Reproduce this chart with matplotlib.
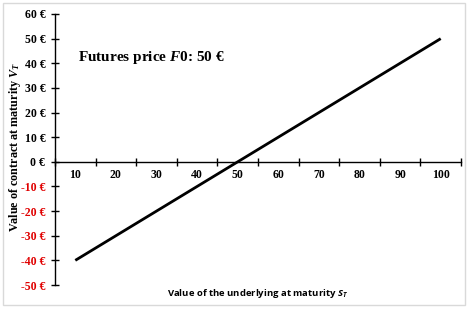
import matplotlib
matplotlib.use("Agg")
import matplotlib.pyplot as plt
from matplotlib.patches import Rectangle
from matplotlib.ticker import FixedLocator, FixedFormatter

matplotlib.rcParams["mathtext.fontset"] = "custom"
matplotlib.rcParams["mathtext.it"] = "Liberation Serif:italic:bold"
matplotlib.rcParams["mathtext.rm"] = "Liberation Serif:bold"
matplotlib.rcParams["mathtext.bf"] = "Liberation Serif:bold"
matplotlib.rcParams["mathtext.sf"] = "Open Sans:italic:bold"

categories = [10, 20, 30, 40, 50, 60, 70, 80, 90, 100]
contract_values = [-40, -30, -20, -10, 0, 10, 20, 30, 40, 50]
y_ticks = [-50, -40, -30, -20, -10, 0, 10, 20, 30, 40, 50, 60]
y_tick_labels = [f"{v} €" for v in y_ticks]
title_price = 50

W, H = 474, 314
fig = plt.figure(figsize=(W / 100, H / 100), dpi=100)
fig.patch.set_facecolor("white")
fig.add_artist(Rectangle((3 / W, 1 - 305 / H), 462 / W, 302 / H, transform=fig.transFigure,
                         fill=False, edgecolor="#d9d9d9", linewidth=1))

ax = fig.add_axes([55 / W, 1 - 285 / H, (461 - 55) / W, (285 - 14) / H])
pos = list(range(len(categories)))
ax.plot(pos, contract_values, color="black", lw=2, solid_capstyle="butt")

ax.set_xlim(-0.5, len(categories) - 0.5)
ax.set_ylim(-50, 60)
for s in ["top", "right"]:
    ax.spines[s].set_visible(False)
ax.spines["bottom"].set_position(("data", 0))
ax.spines["bottom"].set_linewidth(1)
ax.spines["left"].set_linewidth(1)

serif = "Liberation Serif"
ax.xaxis.set_major_locator(FixedLocator([p - 0.5 for p in pos] + [pos[-1] + 0.5]))
ax.xaxis.set_major_formatter(FixedFormatter([""] * (len(pos) + 1)))
ax.xaxis.set_minor_locator(FixedLocator(pos))
ax.xaxis.set_minor_formatter(FixedFormatter([str(c) for c in categories]))
ax.tick_params(axis="x", which="major", direction="inout", length=6, width=1)
ax.tick_params(axis="x", which="minor", length=0, pad=5)
for lab in ax.xaxis.get_minorticklabels():
    lab.set_fontfamily(serif)
    lab.set_fontweight("bold")
    lab.set_fontsize(8.5)

ax.set_yticks(y_ticks)
ax.set_yticklabels(y_tick_labels)
ax.tick_params(axis="y", direction="inout", length=6, width=1, pad=4)
for lab, v in zip(ax.get_yticklabels(), y_ticks):
    lab.set_fontfamily(serif)
    lab.set_fontweight("bold")
    lab.set_fontsize(8.5)
    lab.set_color("#e00000" if v < 0 else "black")

fig.text(78 / W, 1 - 57 / H, r"Futures price $\mathit{F0}$: " + f"{title_price} €",
         fontfamily=serif, fontweight="bold", fontsize=11, va="center", ha="left")

fig.text(15 / W, 1 - 147 / H, r"Value of contract at maturity $\mathit{V_T}$", rotation=90,
         fontfamily=serif, fontweight="bold", fontsize=8.7, va="center", ha="center")
fig.text(258 / W, 1 - 293 / H, r"Value of the underlying at maturity $\mathsf{S_T}$",
         fontfamily="Open Sans", fontweight="bold", fontsize=6.8, va="center", ha="center")

fig.savefig("out.png", dpi=100)
